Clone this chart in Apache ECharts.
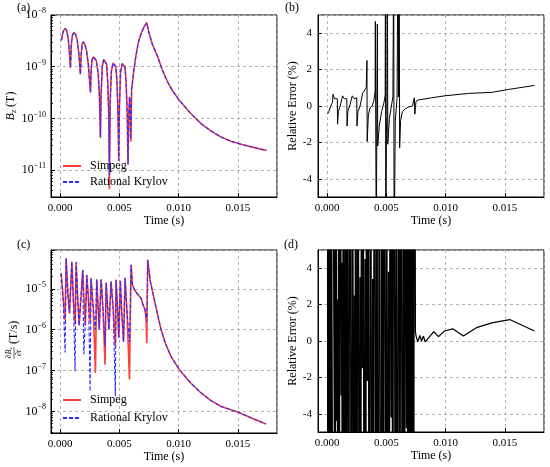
<!DOCTYPE html>
<html>
<head>
<meta charset="utf-8">
<script src="https://cdn.jsdelivr.net/npm/echarts@6/dist/echarts.min.js"></script>
<style>
html, body { margin: 0; padding: 0; background: #fff; }
#chart { width: 550px; height: 467px; }
</style>
</head>
<body>
<div id="chart"></div>
<script>
// 时间单位: ms (画图时换成 s)
// (a) Bz, log10(T)
var timeA = [0.11,0.25,0.42,0.55,0.68,0.78,0.87, 0.95,1.05,1.18,1.32,1.45,1.58,1.71,
  1.78,1.86,1.96,2.08,2.22,2.38,2.56, 2.62,2.70,2.80,2.90,3.05,3.22,3.32,3.40,
  3.46,3.56,3.68,3.80,3.92,4.02,4.10,4.16, 4.22,4.32,4.46,4.58,4.70,4.80,4.88,4.95,
  5.00,5.10,5.24,5.37,5.47,5.57,5.66,5.73, 5.80,5.86,5.92,5.97,6.03,6.21,6.40,6.63,6.90,7.10,7.31,
  7.50,7.80,8.24,8.60,9.08,9.50,10.06,11.00,11.89,12.70,13.58,14.40,15.26,16.30,17.43];
var bzSimpeg = [-8.49,-8.32,-8.26,-8.30,-8.45,-8.70,-9.02, -8.55,-8.38,-8.34,-8.38,-8.50,-8.75,-9.15,
  -8.75,-8.56,-8.52,-8.56,-8.68,-8.95,-9.50, -9.05,-8.86,-8.81,-8.80,-8.88,-9.15,-9.60,-10.37,
  -9.50,-9.00,-8.86,-8.86,-8.95,-9.30,-9.90,-11.37, -9.70,-9.10,-8.93,-8.92,-9.00,-9.30,-9.90,-10.82,
  -9.80,-9.10,-8.94,-8.92,-9.00,-9.30,-9.90,-10.89, -9.90,-9.58,-9.90,-10.45,-9.45,-9.08,-8.78,-8.50,-8.32,-8.22,-8.15,
  -8.35,-8.58,-8.81,-9.05,-9.30,-9.47,-9.65,-9.90,-10.10,-10.24,-10.36,-10.44,-10.50,-10.56,-10.62];
var bzKrylov = [-8.49,-8.32,-8.26,-8.30,-8.45,-8.70,-9.02, -8.55,-8.38,-8.34,-8.38,-8.50,-8.75,-9.15,
  -8.75,-8.56,-8.52,-8.56,-8.68,-8.95,-9.50, -9.05,-8.86,-8.81,-8.80,-8.88,-9.15,-9.60,-10.37,
  -9.50,-9.00,-8.86,-8.86,-8.95,-9.30,-9.90,-11.10, -9.70,-9.10,-8.93,-8.92,-9.00,-9.30,-9.90,-10.82,
  -9.80,-9.10,-8.94,-8.92,-9.00,-9.30,-9.90,-10.89, -9.90,-9.58,-9.90,-10.40,-9.45,-9.08,-8.78,-8.50,-8.32,-8.22,-8.15,
  -8.35,-8.58,-8.81,-9.05,-9.30,-9.47,-9.65,-9.90,-10.10,-10.24,-10.36,-10.44,-10.50,-10.56,-10.62];

// (b) Bz 相对误差 (%)
var timeB = [0.03,0.15,0.30,0.45,0.50,0.62,0.78,0.86,0.88,0.95,1.10,1.25,1.30,1.45,1.60,
  1.66,1.68,1.75,1.90,2.05,2.12,2.28,2.44,2.50,2.52,2.60,2.78,2.92,3.00,3.15,
  3.30,3.36,3.38,3.48,3.62,3.80,3.95,4.05,4.07,4.15,4.20,4.24,4.27,4.40,4.60,
  4.80,4.90,4.92,4.95,5.00,5.04,5.08,5.12,5.25,5.40,5.55,5.62,5.65,5.75,5.90,
  5.98,6.02,6.08,6.12,6.20,6.35,6.60,6.90,7.20,7.36,7.40,7.50,7.68,8.81,9.94,
  11.92,13.90,15.30,17.50];
var errB = [-0.44,-0.30,0.00,0.20,0.65,0.40,0.35,0.40,-1.00,-0.30,0.00,0.10,0.56,0.40,0.35,
  0.40,-1.10,-0.30,0.00,0.10,0.56,0.40,0.40,0.45,-1.10,-0.30,0.00,0.10,0.70,0.75,
  1.00,2.50,-1.95,-0.50,-0.10,0.00,0.30,0.80,4.65,-9.0,0.90,4.50,-2.20,-1.10,-0.30,
  0.20,0.60,9.0,-9.0,-1.50,-0.50,9.0,-2.10,-0.70,-0.10,0.50,9.0,-9.0,-0.80,0.40,
  9.0,0.50,9.0,-2.30,-0.80,-0.30,-0.15,-0.05,0.00,0.45,-0.45,0.25,0.33,0.45,0.56,
  0.69,0.75,0.91,1.13];

// (c) dBz/dt, log10(T/s)
var timeC = [0.08,0.25,0.42, 0.51,0.65,0.79, 0.99,1.12,1.26, 1.35,1.48,1.60, 1.91,2.00,2.12,
  2.25,2.40,2.53, 2.61,2.80,2.98, 3.09,3.20,3.30, 3.46,3.62,3.79, 3.88,4.00,4.12,
  4.30,4.48,4.66, 4.72,4.85,4.95, 5.08,5.20,5.35, 5.48,5.65,5.85,
  5.99,6.10,6.27,6.50,6.83,7.00,7.15,7.25,7.31,
  7.39,7.60,7.95,8.20,8.52,8.90,9.36,10.06,11.00,11.89,12.70,13.58,15.03,16.20,17.37];
var dbSimpeg = [-4.62,-5.2,-5.76, -4.25,-5.1,-5.6, -4.33,-5.3,-5.87, -4.35,-5.2,-5.9, -4.54,-5.2,-5.9,
  -4.66,-5.3,-5.8, -4.74,-5.5,-7.06, -4.77,-5.4,-6.0, -4.77,-5.5,-6.86, -4.85,-5.4,-6.0,
  -4.82,-5.5,-6.4, -4.78,-5.5,-6.2, -4.80,-5.6,-6.3, -4.73,-5.6,-7.22,
  -4.41,-4.9,-5.02,-5.12,-5.23,-5.4,-5.5,-5.7,-6.33,
  -4.29,-4.8,-5.27,-5.6,-6.0,-6.35,-6.66,-6.98,-7.3,-7.55,-7.73,-7.88,-8.02,-8.17,-8.31];
var dbKrylov = [-4.62,-5.2,-6.56, -4.25,-5.1,-5.6, -4.33,-5.3,-7.02, -4.35,-5.2,-5.9, -4.54,-6.6,-5.9,
  -4.66,-5.3,-7.51, -4.74,-5.5,-6.0, -4.77,-5.4,-6.0, -4.77,-5.5,-6.4, -4.85,-5.4,-6.0,
  -4.82,-5.5,-7.63, -4.78,-5.5,-6.2, -4.80,-5.6,-6.3, -4.73,-5.6,-6.3,
  -4.41,-4.9,-5.02,-5.12,-5.23,-5.4,-5.5,-5.7,-5.8,
  -4.29,-4.8,-5.27,-5.6,-6.0,-6.35,-6.66,-6.98,-7.3,-7.55,-7.73,-7.88,-8.02,-8.17,-8.31];

// (d) dBz/dt 相对误差 (%)
var timeD = [0.02,0.06,0.10,0.14,0.18,0.22,0.26,0.30,0.34,0.38,0.50,0.56,0.62,0.68,0.74,0.80,0.86,0.92,0.98,
  1.05,1.12,1.18,1.24,1.30,1.36,1.42,1.48,1.55,1.62,1.68,1.74,1.80,1.88,1.95,2.02,2.10,2.16,2.22,2.30,2.36,
  2.42,2.50,2.56,2.62,2.70,2.78,2.84,2.90,2.98,3.04,3.12,3.20,3.26,3.32,3.40,3.46,3.54,3.62,3.68,3.76,
  3.84,3.90,3.98,4.06,4.12,4.20,4.28,4.36,4.42,4.50,4.58,4.64,4.72,4.80,4.88,4.94,5.02,5.10,5.18,5.24,
  5.32,5.40,5.46,5.54,5.62,5.70,5.76,5.84,5.92,6.00,6.06,6.14,6.22,6.30,6.36,6.44,6.52,6.60,6.68,6.74,
  6.82,6.90,6.98,7.06,7.14,7.22,7.30,7.36,7.45,7.51,7.65,7.82,7.96,8.13,8.27,9.00,9.40,9.90,10.60,11.50,
  12.60,13.90,15.40,17.50];
var errD = [30,-30,28,-31,30,-29,27,-30,31,-28,2.1,25,0.6,-25,30,-4.4,2.3,-30,28,
  -6,30,-3,4.3,-30,30,1.8,-30,26,-28,3.0,30,-30,2.8,30,-25,0.4,30,-30,2.5,-5,
  30,-30,1.2,30,-28,3.5,-30,30,-1.5,30,-30,4.5,-30,28,-2.2,30,-30,1.0,30,-30,
  3.4,-28,30,-0.8,-30,30,-30,2.0,30,-30,-3.5,30,-30,28,-1.0,-30,30,-30,3.8,-30,
  30,-4.2,30,-30,30,0.5,-30,30,-30,2.6,30,-30,30,-3.0,-30,30,-30,30,-4.8,30,
  -30,30,-30,30,-30,30,-30,30,0.5,0.27,-0.05,0.31,0.0,0.27,-0.05,0.51,0.24,0.55,0.67,0.27,
  0.73,1.00,1.18,0.55];

// 对数轴次刻度所在的十进位
var minorExp = [-12, -11, -10, -9, -8, -7, -6, -5, -4];

var FONT = 'Liberation Serif';
var GRID_COLOR = '#b4b4b4';

function pairs(t, v) {
  return t.map(function (x, i) { return [x / 1000, v[i]]; });
}

var minorTicks = [];
minorExp.forEach(function (e) {
  for (var k = 2; k <= 9; k++) minorTicks.push(e + Math.log10(k));
});

function xAxisOf(gi, gap) {
  return {
    type: 'value', gridIndex: gi, min: -0.00077, max: 0.0183,
    splitNumber: 4, minInterval: 0.005, maxInterval: 0.005,
    name: 'Time (s)', nameLocation: 'middle', nameGap: gap,
    nameTextStyle: { fontFamily: FONT, fontSize: 12, color: '#000' },
    axisLine: { onZero: false, lineStyle: { color: '#000', width: 1 } },
    axisTick: { inside: true, length: 4, lineStyle: { color: '#000' } },
    axisLabel: {
      showMinLabel: false, showMaxLabel: false, margin: 6,
      fontFamily: FONT, fontSize: 11, color: '#000',
      formatter: function (v) { return v.toFixed(3); }
    },
    splitLine: { show: true, lineStyle: { type: [3, 3], color: GRID_COLOR } }
  };
}

function logYAxis(gi, min, max, name, gap) {
  return {
    type: 'value', gridIndex: gi, min: min, max: max,
    splitNumber: 4, minInterval: 1, maxInterval: 1,
    name: name, nameLocation: 'middle', nameGap: gap, nameRotate: 90,
    nameTextStyle: {
      fontFamily: FONT, fontSize: 12, color: '#000',
      rich: {
        i: { fontFamily: FONT, fontSize: 12, fontStyle: 'italic', color: '#000' },
        sub: { fontFamily: FONT, fontSize: 8, fontStyle: 'italic', color: '#000', padding: [6, 0, 0, 0] },
        n: { fontFamily: FONT, fontSize: 12, color: '#000' }
      }
    },
    axisLine: { onZero: false, lineStyle: { color: '#000', width: 1 } },
    axisTick: { inside: true, length: 4, lineStyle: { color: '#000' } },
    axisLabel: {
      showMinLabel: false, margin: 5, color: '#000',
      formatter: function (v) {
        if (Math.abs(v - Math.round(v)) > 1e-6) return '';
        return '{b|10}{s|\u2212' + Math.abs(Math.round(v)) + '}';
      },
      rich: {
        b: { fontFamily: FONT, fontSize: 12, color: '#000' },
        s: { fontFamily: FONT, fontSize: 8, color: '#000', padding: [0, 0, 8, 0] }
      }
    },
    splitLine: { show: true, lineStyle: { type: [3, 3], color: GRID_COLOR } }
  };
}

function minorYAxis(gi, min, max) {
  return {
    type: 'value', gridIndex: gi, min: min, max: max, position: 'left',
    axisLine: { show: false, onZero: false }, splitLine: { show: false },
    axisLabel: { show: false },
    axisTick: { inside: true, length: 2, customValues: minorTicks.filter(function (m) { return m > min && m < max; }),
      lineStyle: { color: '#000', width: 0.8 } }
  };
}

function errYAxis(gi, gap) {
  return {
    type: 'value', gridIndex: gi, min: -5, max: 5,
    splitNumber: 5, minInterval: 2, maxInterval: 2,
    name: 'Relative Error (%)', nameLocation: 'middle', nameGap: gap, nameRotate: 90,
    nameTextStyle: { fontFamily: FONT, fontSize: 12, color: '#000' },
    axisLine: { onZero: false, lineStyle: { color: '#000', width: 1 } },
    axisTick: { inside: true, length: 4, lineStyle: { color: '#000' } },
    axisLabel: { showMinLabel: false, showMaxLabel: false, margin: 6, fontFamily: FONT, fontSize: 11, color: '#000' },
    splitLine: { show: true, lineStyle: { type: [3, 3], color: GRID_COLOR } }
  };
}

var gridBase = { show: true, borderColor: '#000', borderWidth: 1, backgroundColor: '#fff' };

function legendAt(top, gap) {
  return {
    left: 57, top: top, orient: 'vertical', itemWidth: 18, itemHeight: 12, itemGap: gap,
    data: ['Simpeg', 'Rational Krylov'],
    itemStyle: { opacity: 0 },
    textStyle: { fontFamily: FONT, fontSize: 12, color: '#000', padding: [0, 0, 0, 4] }
  };
}

var chart = echarts.init(document.getElementById('chart'));

var option = {
  animation: false,
  backgroundColor: '#fff',
  grid: [
    Object.assign({ left: 51, top: 15, width: 226, height: 182 }, gridBase),
    Object.assign({ left: 318, top: 15, width: 226, height: 182 }, gridBase),
    Object.assign({ left: 51, top: 250, width: 226, height: 183 }, gridBase),
    Object.assign({ left: 318, top: 250, width: 226, height: 182 }, gridBase)
  ],
  xAxis: [xAxisOf(0, 17), xAxisOf(1, 17), xAxisOf(2, 18), xAxisOf(3, 18)],
  yAxis: [
    logYAxis(0, -11.52, -8, '{i|B}{sub|z}{n| (T)}', 32),
    errYAxis(1, 17),
    logYAxis(2, -8.53, -4.05, '', 32),
    errYAxis(3, 17),
    minorYAxis(0, -11.52, -8),
    minorYAxis(2, -8.53, -4.05)
  ],
  legend: [legendAt(155, 4), legendAt(389, 6)],
  graphic: [
    { type: 'text', left: 17, top: 2, style: { text: '(a)', fontFamily: FONT, fontSize: 12, fill: '#000' } },
    { type: 'text', left: 285, top: 2, style: { text: '(b)', fontFamily: FONT, fontSize: 12, fill: '#000' } },
    { type: 'text', left: 17, top: 239, style: { text: '(c)', fontFamily: FONT, fontSize: 12, fill: '#000' } },
    { type: 'text', left: 284, top: 239, style: { text: '(d)', fontFamily: FONT, fontSize: 12, fill: '#000' } },
    {
      // dBz/dt 纵轴标题 (分式)
      type: 'group', x: 14, y: 341, rotation: Math.PI / 2,
      children: [
        { type: 'text', x: -12, y: -5, style: { text: '\u2202{i|B}{s|z}', fontFamily: FONT, fontSize: 8, fill: '#000',
            align: 'center', verticalAlign: 'middle',
            rich: { i: { fontFamily: FONT, fontSize: 8, fontStyle: 'italic' }, s: { fontFamily: FONT, fontSize: 5, fontStyle: 'italic', padding: [3, 0, 0, 0] } } } },
        { type: 'line', shape: { x1: -18, y1: 0, x2: -6, y2: 0 }, style: { stroke: '#000', lineWidth: 0.6 } },
        { type: 'text', x: -12, y: 5, style: { text: '\u2202{i|t}', fontFamily: FONT, fontSize: 8, fill: '#000',
            align: 'center', verticalAlign: 'middle',
            rich: { i: { fontFamily: FONT, fontSize: 8, fontStyle: 'italic' } } } },
        { type: 'text', x: -3, y: 0, style: { text: '(T/s)', fontFamily: FONT, fontSize: 12, fill: '#000',
            align: 'left', verticalAlign: 'middle' } }
      ]
    }
  ],
  series: [
    { name: 'Simpeg', type: 'line', xAxisIndex: 0, yAxisIndex: 0, data: pairs(timeA, bzSimpeg),
      symbol: 'none', lineStyle: { color: '#ff3b3b', width: 1.6 }, itemStyle: { color: '#ff3b3b' } },
    { name: 'Rational Krylov', type: 'line', xAxisIndex: 0, yAxisIndex: 0, data: pairs(timeA, bzKrylov),
      symbol: 'none', lineStyle: { color: '#2b2bff', width: 1.1, type: [4, 2] }, itemStyle: { color: '#2b2bff' } },
    { name: 'errB', type: 'line', xAxisIndex: 1, yAxisIndex: 1, data: pairs(timeB, errB),
      symbol: 'none', lineStyle: { color: '#000', width: 1 } },
    { name: 'Simpeg', type: 'line', xAxisIndex: 2, yAxisIndex: 2, data: pairs(timeC, dbSimpeg),
      symbol: 'none', lineStyle: { color: '#ff3b3b', width: 1.6 }, itemStyle: { color: '#ff3b3b' } },
    { name: 'Rational Krylov', type: 'line', xAxisIndex: 2, yAxisIndex: 2, data: pairs(timeC, dbKrylov),
      symbol: 'none', lineStyle: { color: '#2b2bff', width: 1.1, type: [4, 2] }, itemStyle: { color: '#2b2bff' } },
    { name: 'errD', type: 'line', xAxisIndex: 3, yAxisIndex: 3, data: pairs(timeD, errD),
      symbol: 'none', lineStyle: { color: '#000', width: 1.25 } }
  ]
};

chart.setOption(option);
</script>
</body>
</html>
